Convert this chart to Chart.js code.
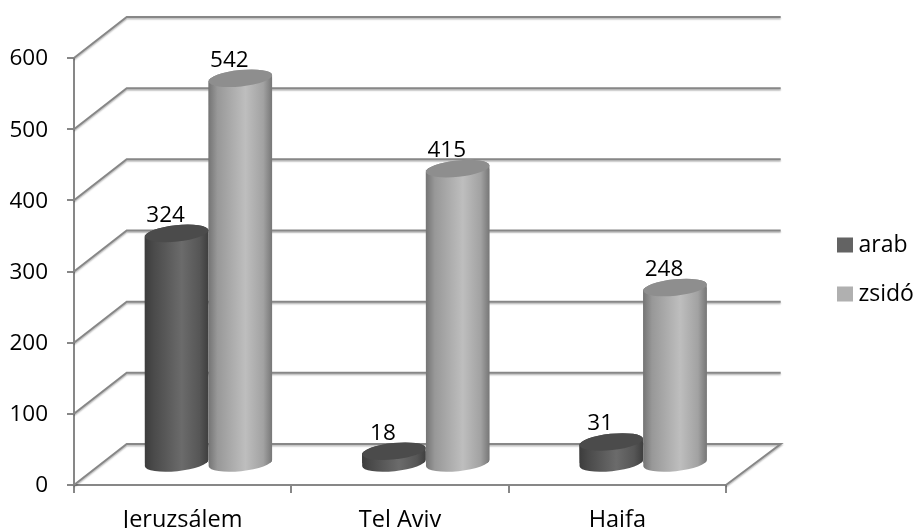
<!DOCTYPE html>
<html>
<head>
<meta charset="utf-8">
<style>html,body{margin:0;padding:0;background:#fff}#w{width:913px;height:528px}</style>
<script src="https://cdn.jsdelivr.net/npm/chart.js@4/dist/chart.umd.min.js"></script>
</head>
<body>
<div id="w"><canvas id="c" width="913" height="528"></canvas></div>
<script>
const categories = ["Jeruzsálem", "Tel Aviv", "Haifa"];
const arab = [324, 18, 31];
const zsido = [542, 415, 248];
const yTicks = [0, 100, 200, 300, 400, 500, 600];

const FONT = "'Open Sans'";
const GRID = "#878787";
const DEPTH_X = 52.7, DEPTH_Y = 41;
const SHIFT_X = 25.8, SHIFT_Y = 21;
const CAT_PCT = 0.587;
const TILT = -6 * Math.PI / 180;
const RY = 8.2;

function cylinderGradient(stops) {
  return function (c) {
    if (c.type !== "data") return stops[2];
    const s = c.chart.scales.x;
    const span = s.width / categories.length;
    const w = span * CAT_PCT / 2;
    const cx = s.getPixelForValue(c.dataIndex);
    const x0 = cx + (c.datasetIndex - 1) * w;
    const g = c.chart.ctx.createLinearGradient(x0, 0, x0 + w, 0);
    [0, .14, .58, .86, 1].forEach((p, i) => g.addColorStop(p, stops[i]));
    return g;
  };
}

const depthPlugin = {
  id: "depth",
  afterLayout(chart) {
    const l = chart.legend;
    const w = l.right - l.left, h = l.bottom - l.top;
    l.left = 817; l.right = l.left + w;
    l.top = 207.5; l.bottom = l.top + h;
  },
  beforeDatasetsDraw(chart) {
    const { ctx, scales: { x, y } } = chart;
    ctx.save();
    ctx.strokeStyle = GRID;
    ctx.lineWidth = 2;
    ctx.shadowColor = "rgba(0,0,0,.28)";
    ctx.shadowOffsetY = 1.5;
    ctx.shadowBlur = 1.5;
    ctx.lineJoin = "miter";
    y.ticks.forEach(t => {
      const py = y.getPixelForValue(t.value);
      ctx.beginPath();
      ctx.moveTo(x.left, py);
      ctx.lineTo(x.left + DEPTH_X, py - DEPTH_Y);
      ctx.lineTo(x.right + DEPTH_X + 2, py - DEPTH_Y);
      if (t.value === 0) ctx.lineTo(x.right, py);
      ctx.stroke();
    });
    ctx.restore();
  },
  beforeDatasetDraw(chart, args) {
    const ctx = chart.ctx;
    const meta = chart.getDatasetMeta(args.index);
    ctx.save();
    ctx.translate(SHIFT_X, -SHIFT_Y);
    ctx.beginPath();
    meta.data.forEach(el => {
      const rx = el.width / 2;
      ctx.moveTo(el.x - rx, el.y);
      ctx.ellipse(el.x, el.y, rx, RY, TILT, Math.PI, 2 * Math.PI);
      ctx.ellipse(el.x, el.base, rx, RY, TILT, 0, Math.PI);
      ctx.closePath();
    });
    ctx.clip();
  },
  afterDatasetDraw(chart, args) {
    const ctx = chart.ctx;
    const meta = chart.getDatasetMeta(args.index);
    ctx.restore();
    const top = chart.data.datasets[args.index].capColor;
    ctx.save();
    ctx.translate(SHIFT_X, -SHIFT_Y);
    meta.data.forEach(el => {
      const rx = el.width / 2;
      ctx.beginPath();
      ctx.moveTo(el.x - rx, el.y);
      ctx.ellipse(el.x, el.y, rx, RY, TILT, Math.PI, 2 * Math.PI);
      ctx.ellipse(el.x, el.base, rx, RY, TILT, 0, Math.PI);
      ctx.closePath();
      ctx.fillStyle = el.options.backgroundColor;
      ctx.fill();
      ctx.beginPath();
      ctx.ellipse(el.x, el.y, rx, RY, TILT, 0, 2 * Math.PI);
      ctx.fillStyle = top;
      ctx.fill();
    });
    ctx.restore();
  },
  afterDatasetsDraw(chart) {
    const ctx = chart.ctx;
    ctx.save();
    ctx.font = "22.5px " + FONT;
    ctx.fillStyle = "#000";
    ctx.textAlign = "center";
    ctx.textBaseline = "middle";
    chart.data.datasets.forEach((ds, i) => {
      chart.getDatasetMeta(i).data.forEach((el, j) => {
        ctx.fillText(String(ds.data[j]), el.x + SHIFT_X - 11, el.y - SHIFT_Y - 18);
      });
    });
    ctx.restore();
  }
};

new Chart(document.getElementById("c"), {
  type: "bar",
  data: {
    labels: categories,
    datasets: [
      { label: "arab", data: arab, capColor: "#4b4b4b", legendColor: "#636363",
        backgroundColor: cylinderGradient(["#3c3c3c", "#4a4a4a", "#6b6b6b", "#565656", "#3e3e3e"]) },
      { label: "zsidó", data: zsido, capColor: "#8e8e8e", legendColor: "#b0b0b0",
        backgroundColor: cylinderGradient(["#747474", "#989898", "#bebebe", "#a2a2a2", "#767676"]) }
    ]
  },
  options: {
    responsive: false,
    animation: false,
    devicePixelRatio: 1,
    layout: { padding: { top: 58, right: 187, left: 0, bottom: 0 } },
    datasets: { bar: { categoryPercentage: CAT_PCT, barPercentage: 1, clip: false, borderWidth: 0 } },
    scales: {
      x: {
        grid: { drawOnChartArea: false, drawTicks: true, tickLength: 8, color: GRID, lineWidth: 2, offset: true },
        border: { color: GRID, width: 2 },
        ticks: { font: { family: FONT, size: 23.5 }, color: "#000", padding: 13, maxRotation: 0 },
        afterFit(s) { s.height = 43; }
      },
      y: {
        min: 0, max: 600,
        afterBuildTicks(s) { s.ticks = yTicks.map(v => ({ value: v })); },
        grid: { drawOnChartArea: false, drawTicks: true, tickLength: 7, color: GRID, lineWidth: 2 },
        border: { color: GRID, width: 2 },
        ticks: { font: { family: FONT, size: 22.5 }, color: "#000", padding: 19, labelOffset: 1 },
        afterFit(s) { s.width = 74; }
      }
    },
    plugins: {
      tooltip: { enabled: false },
      legend: {
        position: "chartArea",
        align: "start",
        labels: {
          font: { family: FONT, size: 23 },
          color: "#000",
          padding: 26,
          boxWidth: 4,
          boxHeight: 3,
          generateLabels(chart) {
            return chart.data.datasets.map((d, i) => ({
              text: d.label, datasetIndex: i,
              fillStyle: d.legendColor, strokeStyle: d.legendColor, lineWidth: 12,
              fontColor: "#000", hidden: false
            }));
          }
        }
      }
    }
  },
  plugins: [depthPlugin]
});
</script>
</body>
</html>
